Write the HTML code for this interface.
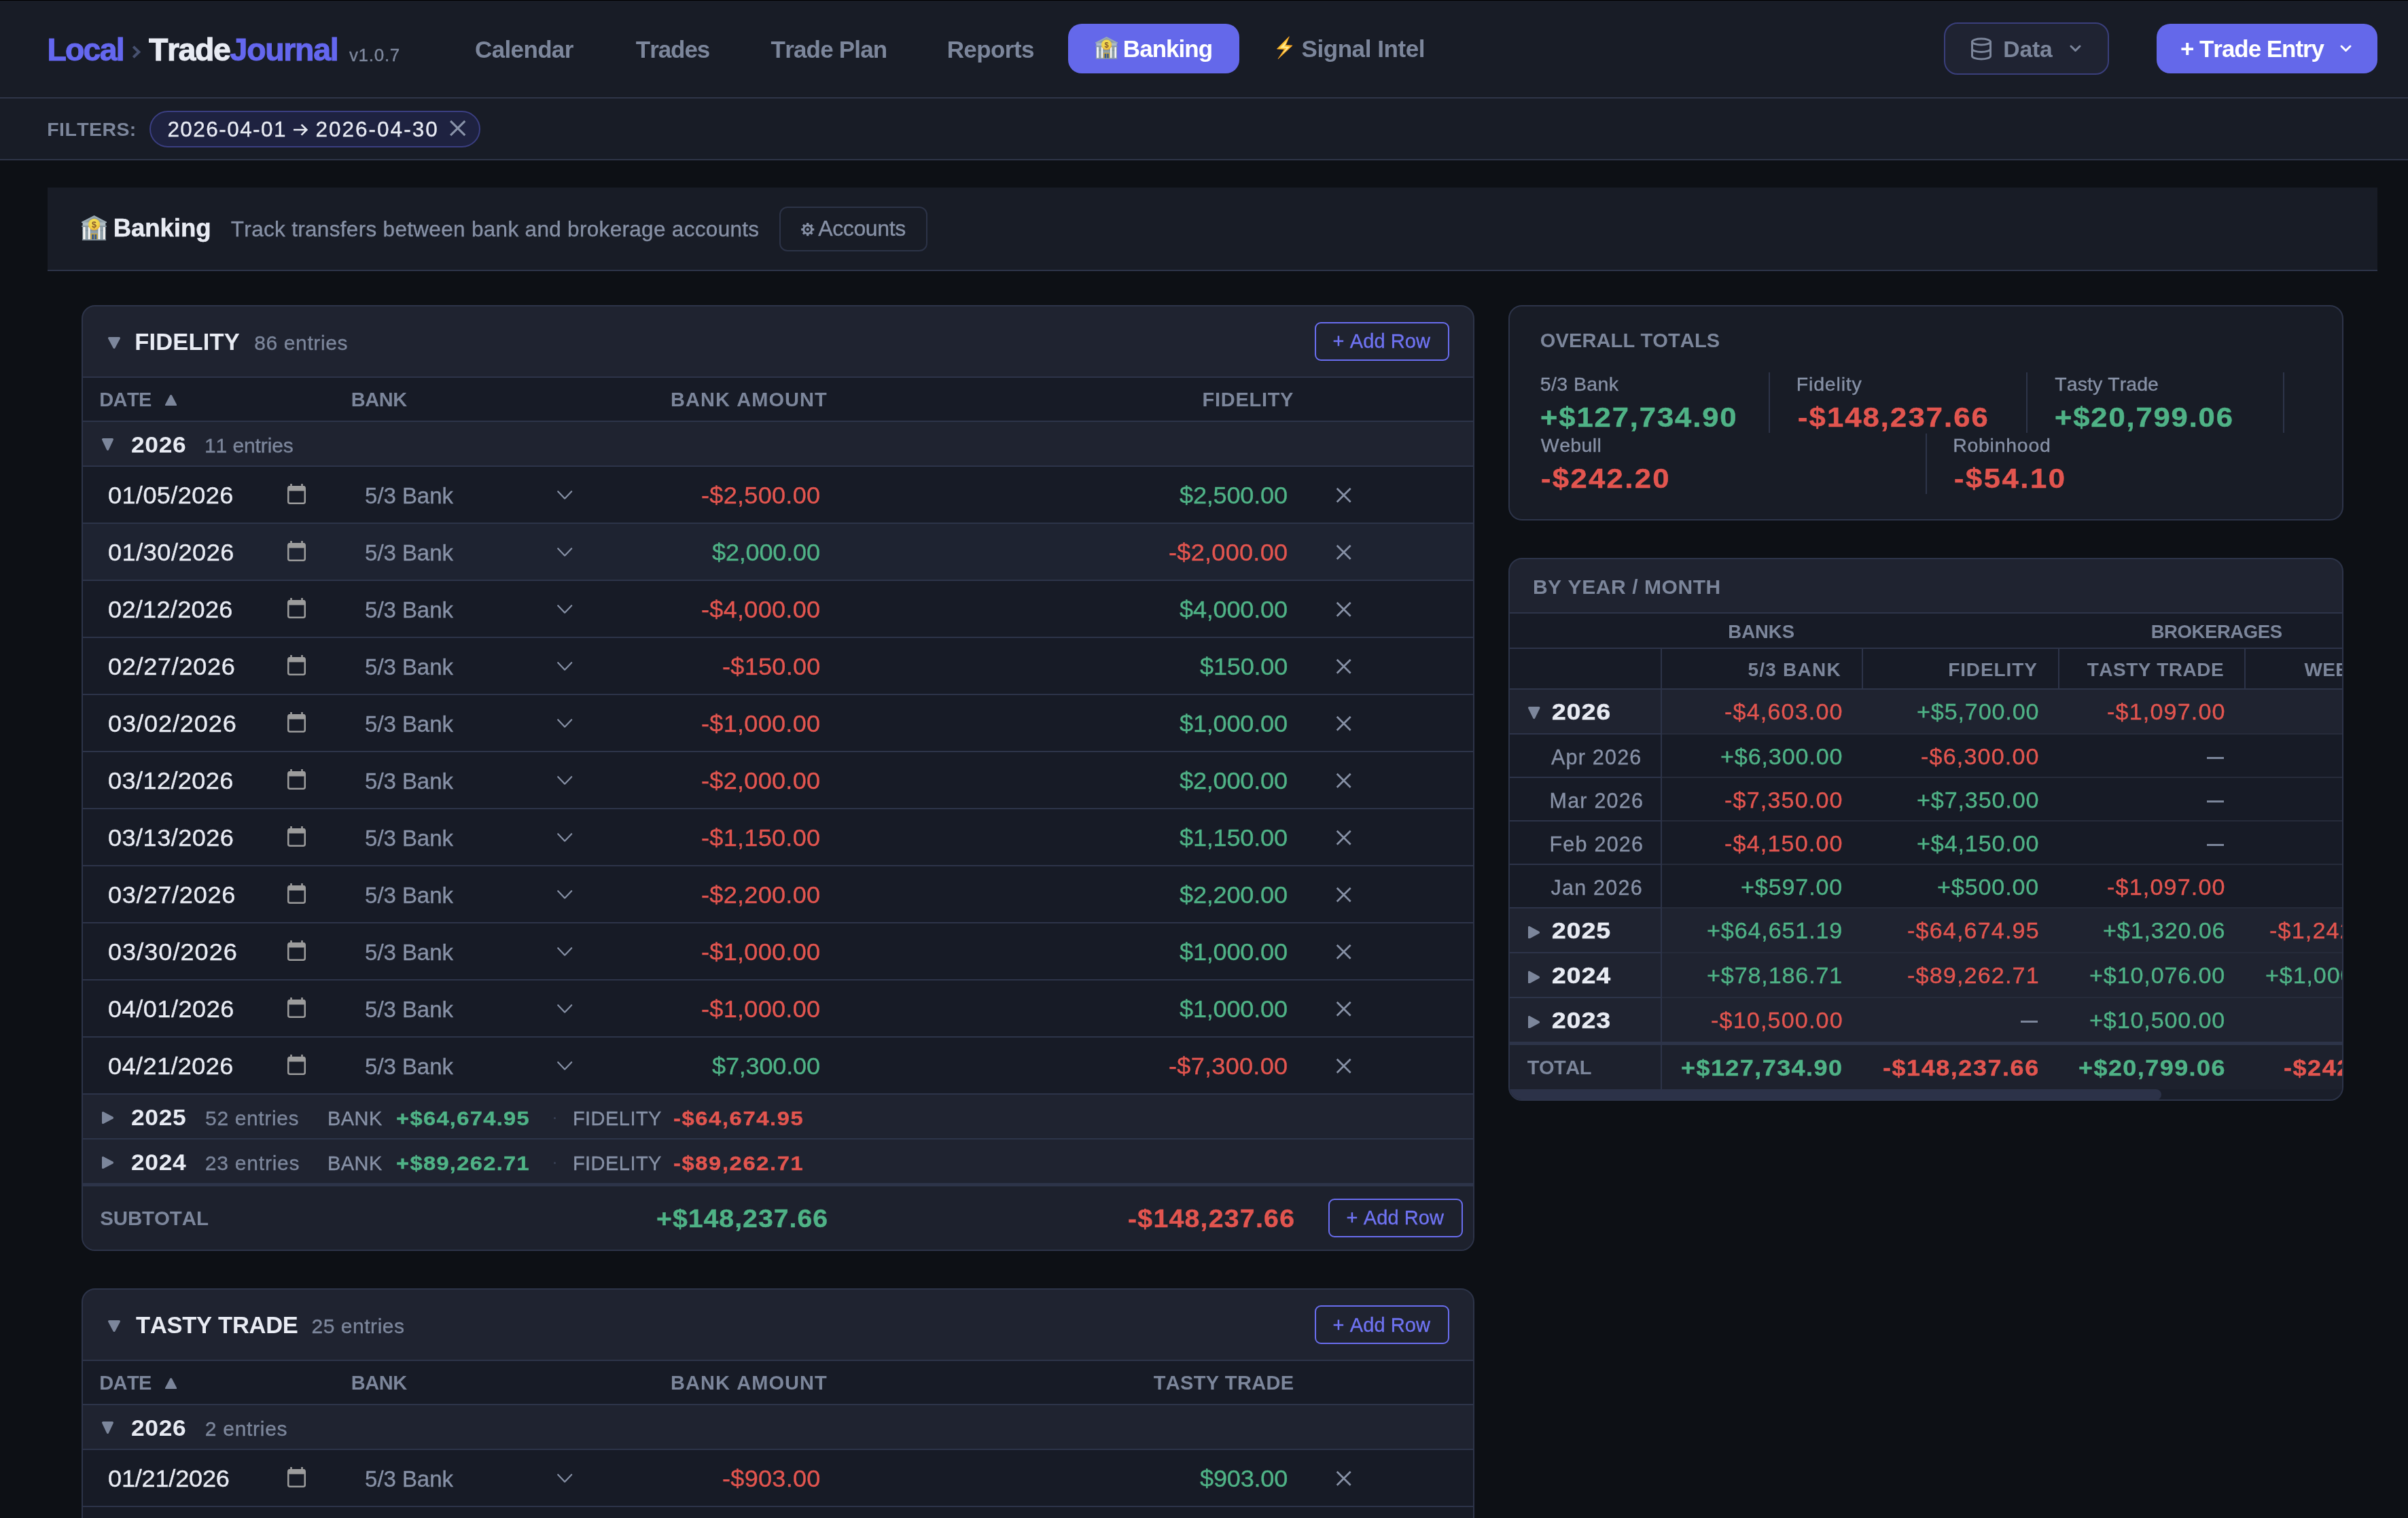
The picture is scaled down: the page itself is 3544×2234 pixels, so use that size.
<!DOCTYPE html>
<html lang="en"><head><meta charset="utf-8"><meta name="viewport" content="width=3544"><title>Local TradeJournal - Banking</title>
<style>
*{margin:0;padding:0;box-sizing:border-box}
html,body{width:3544px;height:2234px;overflow:hidden;background:#0d1015}
body{position:relative;will-change:transform;font-family:"Liberation Sans",sans-serif;font-kerning:none;-webkit-font-smoothing:antialiased}
.b{position:absolute;display:block}
.t{position:absolute;white-space:pre;line-height:1;display:block}
</style></head>
<body>
<header>
<div class="b" style="left:0px;top:0px;width:3544px;height:143px;background:#181c26;"></div>
<div class="b" style="left:0px;top:0px;width:3544px;height:1px;background:#000000;"></div>
<div class="b" style="left:0px;top:143px;width:3544px;height:2px;background:#2e3548;"></div>
<div class="b" style="left:0px;top:145px;width:3544px;height:89px;background:#181c26;"></div>
<div class="b" style="left:0px;top:234px;width:3544px;height:2px;background:#2e3548;"></div>
<span class="t" style="left:69.39px;top:50px;font-size:46.5px;color:#6467ef;font-weight:700;letter-spacing:-1.788px;-webkit-text-stroke:1.0px #6467ef;">Local</span>
<svg class="b" style="left:192px;top:64px" width="18" height="26" viewBox="0 0 18 26" ><path d="M4.2 4.6L12.4 12.5L4.2 20.4" fill="none" stroke="#475170" stroke-width="4" stroke-linecap="butt" stroke-linejoin="miter"/></svg>
<span class="t" style="left:218.98px;top:50px;font-size:46.5px;color:#e8ebf3;font-weight:700;letter-spacing:-1.432px;-webkit-text-stroke:1.0px #e8ebf3;">Trade</span>
<span class="t" style="left:338.60px;top:50px;font-size:46.5px;color:#6467ef;font-weight:700;letter-spacing:-1.326px;-webkit-text-stroke:1.0px #6467ef;">Journal</span>
<span class="t" style="left:513.91px;top:68px;font-size:26px;color:#7c869b;letter-spacing:0.714px;-webkit-text-stroke:0.4px #7c869b;">v1.0.7</span>
<nav>
<span class="t" style="left:699.06px;top:55px;font-size:35px;color:#7c869b;font-weight:700;letter-spacing:-0.645px;">Calendar</span>
<span class="t" style="left:935.81px;top:55px;font-size:35px;color:#7c869b;font-weight:700;letter-spacing:-1.051px;">Trades</span>
<span class="t" style="left:1134.61px;top:55px;font-size:35px;color:#7c869b;font-weight:700;letter-spacing:-0.821px;">Trade Plan</span>
<span class="t" style="left:1393.66px;top:55px;font-size:35px;color:#7c869b;font-weight:700;letter-spacing:-0.579px;">Reports</span>
<div class="b" style="left:1572px;top:35px;width:252px;height:73px;background:#6468ea;border-radius:20px;"></div>
<svg class="b" style="left:1612px;top:54px" width="33" height="33" viewBox="0 0 37 37" ><defs><radialGradient id="cg" cx="0.45" cy="0.35" r="0.7"><stop offset="0" stop-color="#f4e45c"/><stop offset="0.65" stop-color="#f0cf47"/><stop offset="1" stop-color="#e5a238"/></radialGradient></defs><rect x="1.4" y="16" width="34.2" height="19.6" fill="#8e9fa9"/><rect x="1.4" y="21.5" width="34.2" height="1.6" fill="#7f909b"/><path d="M18.6 0L37 9.4V11H0V9.4Z" fill="#9aaab3"/><path d="M18.6 2.6L31.5 9.6H5.7Z" fill="#8797a1"/><rect x="1.6" y="10.6" width="33.8" height="4.6" fill="#aebcc3"/><rect x="0.2" y="15" width="36.6" height="1.9" rx="0.5" fill="#8999a3"/><rect x="2.4" y="17" width="3.1" height="18.4" rx="0.7" fill="#f6f5f4"/><rect x="9.9" y="17" width="2.7" height="18.4" rx="0.7" fill="#f6f5f4"/><rect x="24.6" y="17" width="2.7" height="18.4" rx="0.7" fill="#f6f5f4"/><rect x="31.9" y="17" width="2.8" height="18.4" rx="0.7" fill="#f6f5f4"/><rect x="13.4" y="26.6" width="10.4" height="9.2" fill="#cfa83c"/><rect x="15.2" y="28" width="3" height="7.8" fill="#345a93"/><rect x="19.3" y="28" width="2.9" height="7.8" fill="#345a93"/><rect x="0.8" y="35.2" width="35.4" height="1.6" rx="0.5" fill="#8c9ca6"/><circle cx="18.6" cy="13.4" r="8.6" fill="url(#cg)"/><text x="18.6" y="18.1" text-anchor="middle" font-family="Liberation Sans" font-weight="700" font-size="12.6" fill="#86552a">$</text></svg>
<span class="t" style="left:1652.86px;top:54px;font-size:35px;color:#ffffff;font-weight:700;letter-spacing:-0.983px;">Banking</span>
<svg class="b" style="left:1878px;top:52px" width="26" height="36" viewBox="0 0 26 36" ><defs><linearGradient id="bg1" x1="0" y1="0" x2="1" y2="1"><stop offset="0" stop-color="#ffd23a"/><stop offset="0.5" stop-color="#ffc42e"/><stop offset="1" stop-color="#f3921f"/></linearGradient></defs><path d="M19.35 1.8L1.4 20L12.4 20.4L3.1 34.6L24.1 15.1L14.2 14.5Z" fill="url(#bg1)" stroke="#f39a22" stroke-width="0.8" stroke-linejoin="round"/><path d="M16.6 7.6L6.2 18.3L15.3 18.7L9 28.4L19.8 16.9L12.0 16.4Z" fill="#fff2a8" opacity="0.85"/></svg>
<span class="t" style="left:1915.49px;top:54px;font-size:35px;color:#7c869b;font-weight:700;letter-spacing:-0.429px;">Signal Intel</span>
</nav>
<div class="b" style="left:2861px;top:33px;width:243px;height:77px;background:#1f2332;border:2px solid #3a3f7c;border-radius:20px;"></div>
<svg class="b" style="left:2897.7px;top:53.5px" width="36" height="36" viewBox="0 0 24 24" ><g fill="none" stroke="#7c869b" stroke-width="2" stroke-linecap="round" stroke-linejoin="round"><ellipse cx="12" cy="5" rx="9" ry="3"/><path d="M3 5V19A9 3 0 0 0 21 19V5"/><path d="M3 12A9 3 0 0 0 21 12"/></g></svg>
<span class="t" style="left:2948.25px;top:56px;font-size:33.7px;color:#7c869b;font-weight:700;letter-spacing:-0.164px;">Data</span>
<svg class="b" style="left:3045.0px;top:65.25px" width="19" height="12.5" viewBox="0 0 19 12.5" ><path d="M3 3L9.5 9.5L16 3" fill="none" stroke="#7c869b" stroke-width="3" stroke-linecap="round" stroke-linejoin="round"/></svg>
<div class="b" style="left:3174px;top:35px;width:325px;height:73px;background:#6468ea;border-radius:20px;"></div>
<span class="t" style="left:3208.93px;top:54px;font-size:35px;color:#ffffff;font-weight:700;letter-spacing:-1.043px;">+ Trade Entry</span>
<svg class="b" style="left:3442.5px;top:65.25px" width="19" height="12.5" viewBox="0 0 19 12.5" ><path d="M3 3L9.5 9.5L16 3" fill="none" stroke="#ffffff" stroke-width="3" stroke-linecap="round" stroke-linejoin="round"/></svg>
</header>
<section>
<span class="t" style="left:69.29px;top:176px;font-size:28.5px;color:#7c869b;font-weight:700;letter-spacing:0.400px;">FILTERS:</span>
<div class="b" style="left:220px;top:163px;width:487px;height:54px;background:#1e2240;border:2px solid #3b3f82;border-radius:27px;"></div>
<span class="t" style="left:246.42px;top:175px;font-size:31.5px;color:#e8ebf3;letter-spacing:1.442px;-webkit-text-stroke:0.35px #e8ebf3;">2026-04-01</span>
<svg class="b" style="left:429.3px;top:179.3px" width="26" height="24" viewBox="0 0 26 24" ><path d="M3 12H22M14.6 4.4L22.4 12L14.6 19.6" fill="none" stroke="#e8ebf3" stroke-width="2.6" stroke-linecap="butt" stroke-linejoin="miter"/></svg>
<span class="t" style="left:464.42px;top:175px;font-size:31.5px;color:#e8ebf3;letter-spacing:2.019px;-webkit-text-stroke:0.35px #e8ebf3;">2026-04-30</span>
<svg class="b" style="left:659.5px;top:175.1px" width="27.39999999999993" height="27.2" viewBox="0 0 27.39999999999993 27.2" ><path d="M3.1 3.1L24.299999999999933 24.1M24.299999999999933 3.1L3.1 24.1" fill="none" stroke="#8993a9" stroke-width="3.1" stroke-linecap="butt"/></svg>
</section>
<main>
<section>
<div class="b" style="left:70px;top:276px;width:3429px;height:121px;background:#181c26;"></div>
<div class="b" style="left:70px;top:397px;width:3429px;height:2px;background:#2d3449;"></div>
<svg class="b" style="left:120px;top:317px" width="37" height="37" viewBox="0 0 37 37" ><defs><radialGradient id="cg" cx="0.45" cy="0.35" r="0.7"><stop offset="0" stop-color="#f4e45c"/><stop offset="0.65" stop-color="#f0cf47"/><stop offset="1" stop-color="#e5a238"/></radialGradient></defs><rect x="1.4" y="16" width="34.2" height="19.6" fill="#8e9fa9"/><rect x="1.4" y="21.5" width="34.2" height="1.6" fill="#7f909b"/><path d="M18.6 0L37 9.4V11H0V9.4Z" fill="#9aaab3"/><path d="M18.6 2.6L31.5 9.6H5.7Z" fill="#8797a1"/><rect x="1.6" y="10.6" width="33.8" height="4.6" fill="#aebcc3"/><rect x="0.2" y="15" width="36.6" height="1.9" rx="0.5" fill="#8999a3"/><rect x="2.4" y="17" width="3.1" height="18.4" rx="0.7" fill="#f6f5f4"/><rect x="9.9" y="17" width="2.7" height="18.4" rx="0.7" fill="#f6f5f4"/><rect x="24.6" y="17" width="2.7" height="18.4" rx="0.7" fill="#f6f5f4"/><rect x="31.9" y="17" width="2.8" height="18.4" rx="0.7" fill="#f6f5f4"/><rect x="13.4" y="26.6" width="10.4" height="9.2" fill="#cfa83c"/><rect x="15.2" y="28" width="3" height="7.8" fill="#345a93"/><rect x="19.3" y="28" width="2.9" height="7.8" fill="#345a93"/><rect x="0.8" y="35.2" width="35.4" height="1.6" rx="0.5" fill="#8c9ca6"/><circle cx="18.6" cy="13.4" r="8.6" fill="url(#cg)"/><text x="18.6" y="18.1" text-anchor="middle" font-family="Liberation Sans" font-weight="700" font-size="12.6" fill="#86552a">$</text></svg>
<span class="t" style="left:166.75px;top:318px;font-size:36.6px;color:#e8ebf3;font-weight:700;letter-spacing:-0.083px;-webkit-text-stroke:0.5px #e8ebf3;">Banking</span>
<span class="t" style="left:339.79px;top:322px;font-size:31.5px;color:#8791a6;letter-spacing:0.313px;-webkit-text-stroke:0.35px #8791a6;">Track transfers between bank and brokerage accounts</span>
<div class="b" style="left:1147px;top:304px;width:218px;height:66px;border:2px solid #2c3347;border-radius:12px;"></div>
<svg class="b" style="left:1177.6px;top:326.6px" width="21.4" height="21.4" viewBox="0 0 21.4 21.4" ><path d="M20.28 9.18L20.28 12.22L17.87 12.42L16.99 14.55L18.55 16.40L16.40 18.55L14.55 16.99L12.42 17.87L12.22 20.28L9.18 20.28L8.98 17.87L6.85 16.99L5.00 18.55L2.85 16.40L4.41 14.55L3.53 12.42L1.12 12.22L1.12 9.18L3.53 8.98L4.41 6.85L2.85 5.00L5.00 2.85L6.85 4.41L8.98 3.53L9.18 1.12L12.22 1.12L12.42 3.53L14.55 4.41L16.40 2.85L18.55 5.00L16.99 6.85L17.87 8.98Z" fill="#8791a6"/><circle cx="10.7" cy="10.7" r="4.56" fill="#181c26"/><circle cx="10.7" cy="10.7" r="2.13" fill="#8791a6"/></svg>
<span class="t" style="left:1204.24px;top:320px;font-size:32px;color:#8791a6;letter-spacing:-0.387px;-webkit-text-stroke:0.35px #8791a6;">Accounts</span>
</section>
<section>
<div class="b" style="left:120px;top:449px;width:2050px;height:1392px;background:#1f2330;border:2px solid #2d3449;border-radius:20px;"></div>
<svg class="b" style="left:159px;top:496px" width="18" height="18" viewBox="0 0 18 18" ><path d="M1.6 1.6H16.4L9.0 15.399999999999999Z" fill="#7c869b" stroke="#7c869b" stroke-width="3.2" stroke-linejoin="round"/></svg>
<span class="t" style="left:198.19px;top:486px;font-size:34.5px;color:#e8ebf3;font-weight:700;letter-spacing:0.189px;">FIDELITY</span>
<span class="t" style="left:374.20px;top:490px;font-size:30px;color:#7c869b;letter-spacing:0.626px;-webkit-text-stroke:0.35px #7c869b;">86 entries</span>
<div class="b" style="left:1935px;top:474px;width:198px;height:57px;border:2px solid #6a6ef0;border-radius:9px;"></div>
<span class="t" style="left:1961.58px;top:488px;font-size:29px;color:#6f73f2;letter-spacing:0.084px;-webkit-text-stroke:0.35px #6f73f2;">+ Add Row</span>
<div class="b" style="left:122px;top:554px;width:2046px;height:2px;background:#2d3449;"></div>
<div class="b" style="left:122px;top:556px;width:2046px;height:63px;background:#171b26;"></div>
<div class="b" style="left:122px;top:619px;width:2046px;height:2px;background:#2d3449;"></div>
<span class="t" style="left:146.26px;top:574px;font-size:29px;color:#7c869b;font-weight:700;letter-spacing:-0.627px;">DATE</span>
<svg class="b" style="left:243px;top:579.5px" width="17.2" height="17.5" viewBox="0 0 17.2 17.5" ><path d="M1.6 15.9H15.6L8.6 2.6Z" fill="#7c869b" stroke="#7c869b" stroke-width="3.2" stroke-linejoin="round"/></svg>
<span class="t" style="left:516.86px;top:574px;font-size:29px;color:#7c869b;font-weight:700;letter-spacing:-0.457px;">BANK</span>
<span class="t" style="left:987.06px;top:574px;font-size:29px;color:#7c869b;font-weight:700;letter-spacing:1.066px;">BANK AMOUNT</span>
<span class="t" style="left:1769.56px;top:574px;font-size:29px;color:#7c869b;font-weight:700;letter-spacing:0.717px;">FIDELITY</span>
<svg class="b" style="left:150px;top:645px" width="17" height="19" viewBox="0 0 17 19" ><path d="M1.6 1.6H15.4L8.5 16.4Z" fill="#7c869b" stroke="#7c869b" stroke-width="3.2" stroke-linejoin="round"/></svg>
<span class="t" style="left:193.07px;top:639px;font-size:32.5px;color:#e8ebf3;font-weight:700;letter-spacing:0.608px;transform:scaleX(1.09);transform-origin:0 0;">2026</span>
<span class="t" style="left:301.01px;top:641px;font-size:30px;color:#7c869b;letter-spacing:-0.098px;-webkit-text-stroke:0.35px #7c869b;">11 entries</span>
<div class="b" style="left:122px;top:685px;width:2046px;height:2px;background:#2d3449;"></div>
<div class="b" style="left:122px;top:687px;width:2046px;height:82px;background:#171b26;"></div>
<div class="b" style="left:122px;top:769px;width:2046px;height:2px;background:#2d3449;"></div>
<span class="t" style="left:159.19px;top:712px;font-size:34.4px;color:#e8ebf3;letter-spacing:0.377px;-webkit-text-stroke:0.35px #e8ebf3;transform:scaleX(1.05);transform-origin:0 0;">01/05/2026</span>
<svg class="b" style="left:423px;top:712.4px" width="27" height="30" viewBox="0 0 27 30" ><path d="M4.2 0h2.6v3.4h-2.6zM20.2 0h2.6v3.4h-2.6z" fill="#9c9c9c"/><rect x="1.25" y="4.25" width="24.5" height="24.5" rx="2.5" fill="none" stroke="#9c9c9c" stroke-width="2.5"/><rect x="1" y="3" width="25" height="7.5" rx="2" fill="#9c9c9c"/></svg>
<span class="t" style="left:537.08px;top:713px;font-size:33px;color:#8791a6;letter-spacing:-0.056px;-webkit-text-stroke:0.35px #8791a6;">5/3 Bank</span>
<svg class="b" style="left:819.0px;top:720.75px" width="24.4" height="14.9" viewBox="0 0 24.4 14.9" ><path d="M2.2 2.2L12.2 12.7L22.2 2.2" fill="none" stroke="#8791a6" stroke-width="2.2" stroke-linecap="round" stroke-linejoin="round"/></svg>
<span class="t" style="left:1032.10px;top:712px;font-size:34.4px;color:#e2554f;letter-spacing:0.258px;-webkit-text-stroke:0.35px #e2554f;transform:scaleX(1.05);transform-origin:0 0;">-$2,500.00</span>
<span class="t" style="left:1736.21px;top:712px;font-size:34.4px;color:#4fb286;letter-spacing:-0.197px;-webkit-text-stroke:0.35px #4fb286;transform:scaleX(1.05);transform-origin:0 0;">$2,500.00</span>
<svg class="b" style="left:1964.7px;top:715.5px" width="25.4" height="25.4" viewBox="0 0 25.4 25.4" ><path d="M2.7 2.7L22.7 22.7M22.7 2.7L2.7 22.7" fill="none" stroke="#8791a6" stroke-width="2.7" stroke-linecap="butt"/></svg>
<div class="b" style="left:122px;top:771px;width:2046px;height:82px;background:#1e2331;"></div>
<div class="b" style="left:122px;top:853px;width:2046px;height:2px;background:#2d3449;"></div>
<span class="t" style="left:159.19px;top:796px;font-size:34.4px;color:#e8ebf3;letter-spacing:0.494px;-webkit-text-stroke:0.35px #e8ebf3;transform:scaleX(1.05);transform-origin:0 0;">01/30/2026</span>
<svg class="b" style="left:423px;top:796.4px" width="27" height="30" viewBox="0 0 27 30" ><path d="M4.2 0h2.6v3.4h-2.6zM20.2 0h2.6v3.4h-2.6z" fill="#9c9c9c"/><rect x="1.25" y="4.25" width="24.5" height="24.5" rx="2.5" fill="none" stroke="#9c9c9c" stroke-width="2.5"/><rect x="1" y="3" width="25" height="7.5" rx="2" fill="#9c9c9c"/></svg>
<span class="t" style="left:537.08px;top:797px;font-size:33px;color:#8791a6;letter-spacing:-0.056px;-webkit-text-stroke:0.35px #8791a6;">5/3 Bank</span>
<svg class="b" style="left:819.0px;top:804.75px" width="24.4" height="14.9" viewBox="0 0 24.4 14.9" ><path d="M2.2 2.2L12.2 12.7L22.2 2.2" fill="none" stroke="#8791a6" stroke-width="2.2" stroke-linecap="round" stroke-linejoin="round"/></svg>
<span class="t" style="left:1048.21px;top:796px;font-size:34.4px;color:#4fb286;letter-spacing:-0.197px;-webkit-text-stroke:0.35px #4fb286;transform:scaleX(1.05);transform-origin:0 0;">$2,000.00</span>
<span class="t" style="left:1720.10px;top:796px;font-size:34.4px;color:#e2554f;letter-spacing:0.258px;-webkit-text-stroke:0.35px #e2554f;transform:scaleX(1.05);transform-origin:0 0;">-$2,000.00</span>
<svg class="b" style="left:1964.7px;top:799.5px" width="25.4" height="25.4" viewBox="0 0 25.4 25.4" ><path d="M2.7 2.7L22.7 22.7M22.7 2.7L2.7 22.7" fill="none" stroke="#8791a6" stroke-width="2.7" stroke-linecap="butt"/></svg>
<div class="b" style="left:122px;top:855px;width:2046px;height:82px;background:#171b26;"></div>
<div class="b" style="left:122px;top:937px;width:2046px;height:2px;background:#2d3449;"></div>
<span class="t" style="left:159.19px;top:880px;font-size:34.4px;color:#e8ebf3;letter-spacing:0.282px;-webkit-text-stroke:0.35px #e8ebf3;transform:scaleX(1.05);transform-origin:0 0;">02/12/2026</span>
<svg class="b" style="left:423px;top:880.4px" width="27" height="30" viewBox="0 0 27 30" ><path d="M4.2 0h2.6v3.4h-2.6zM20.2 0h2.6v3.4h-2.6z" fill="#9c9c9c"/><rect x="1.25" y="4.25" width="24.5" height="24.5" rx="2.5" fill="none" stroke="#9c9c9c" stroke-width="2.5"/><rect x="1" y="3" width="25" height="7.5" rx="2" fill="#9c9c9c"/></svg>
<span class="t" style="left:537.08px;top:881px;font-size:33px;color:#8791a6;letter-spacing:-0.056px;-webkit-text-stroke:0.35px #8791a6;">5/3 Bank</span>
<svg class="b" style="left:819.0px;top:888.75px" width="24.4" height="14.9" viewBox="0 0 24.4 14.9" ><path d="M2.2 2.2L12.2 12.7L22.2 2.2" fill="none" stroke="#8791a6" stroke-width="2.2" stroke-linecap="round" stroke-linejoin="round"/></svg>
<span class="t" style="left:1032.10px;top:880px;font-size:34.4px;color:#e2554f;letter-spacing:0.258px;-webkit-text-stroke:0.35px #e2554f;transform:scaleX(1.05);transform-origin:0 0;">-$4,000.00</span>
<span class="t" style="left:1736.21px;top:880px;font-size:34.4px;color:#4fb286;letter-spacing:-0.197px;-webkit-text-stroke:0.35px #4fb286;transform:scaleX(1.05);transform-origin:0 0;">$4,000.00</span>
<svg class="b" style="left:1964.7px;top:883.5px" width="25.4" height="25.4" viewBox="0 0 25.4 25.4" ><path d="M2.7 2.7L22.7 22.7M22.7 2.7L2.7 22.7" fill="none" stroke="#8791a6" stroke-width="2.7" stroke-linecap="butt"/></svg>
<div class="b" style="left:122px;top:939px;width:2046px;height:82px;background:#171b26;"></div>
<div class="b" style="left:122px;top:1021px;width:2046px;height:2px;background:#2d3449;"></div>
<span class="t" style="left:159.19px;top:964px;font-size:34.4px;color:#e8ebf3;letter-spacing:0.653px;-webkit-text-stroke:0.35px #e8ebf3;transform:scaleX(1.05);transform-origin:0 0;">02/27/2026</span>
<svg class="b" style="left:423px;top:964.4px" width="27" height="30" viewBox="0 0 27 30" ><path d="M4.2 0h2.6v3.4h-2.6zM20.2 0h2.6v3.4h-2.6z" fill="#9c9c9c"/><rect x="1.25" y="4.25" width="24.5" height="24.5" rx="2.5" fill="none" stroke="#9c9c9c" stroke-width="2.5"/><rect x="1" y="3" width="25" height="7.5" rx="2" fill="#9c9c9c"/></svg>
<span class="t" style="left:537.08px;top:965px;font-size:33px;color:#8791a6;letter-spacing:-0.056px;-webkit-text-stroke:0.35px #8791a6;">5/3 Bank</span>
<svg class="b" style="left:819.0px;top:972.75px" width="24.4" height="14.9" viewBox="0 0 24.4 14.9" ><path d="M2.2 2.2L12.2 12.7L22.2 2.2" fill="none" stroke="#8791a6" stroke-width="2.2" stroke-linecap="round" stroke-linejoin="round"/></svg>
<span class="t" style="left:1062.74px;top:964px;font-size:34.4px;color:#e2554f;letter-spacing:0.258px;-webkit-text-stroke:0.35px #e2554f;transform:scaleX(1.05);transform-origin:0 0;">-$150.00</span>
<span class="t" style="left:1765.90px;top:964px;font-size:34.4px;color:#4fb286;letter-spacing:-0.197px;-webkit-text-stroke:0.35px #4fb286;transform:scaleX(1.05);transform-origin:0 0;">$150.00</span>
<svg class="b" style="left:1964.7px;top:967.5px" width="25.4" height="25.4" viewBox="0 0 25.4 25.4" ><path d="M2.7 2.7L22.7 22.7M22.7 2.7L2.7 22.7" fill="none" stroke="#8791a6" stroke-width="2.7" stroke-linecap="butt"/></svg>
<div class="b" style="left:122px;top:1023px;width:2046px;height:82px;background:#171b26;"></div>
<div class="b" style="left:122px;top:1105px;width:2046px;height:2px;background:#2d3449;"></div>
<span class="t" style="left:159.19px;top:1048px;font-size:34.4px;color:#e8ebf3;letter-spacing:0.864px;-webkit-text-stroke:0.35px #e8ebf3;transform:scaleX(1.05);transform-origin:0 0;">03/02/2026</span>
<svg class="b" style="left:423px;top:1048.4px" width="27" height="30" viewBox="0 0 27 30" ><path d="M4.2 0h2.6v3.4h-2.6zM20.2 0h2.6v3.4h-2.6z" fill="#9c9c9c"/><rect x="1.25" y="4.25" width="24.5" height="24.5" rx="2.5" fill="none" stroke="#9c9c9c" stroke-width="2.5"/><rect x="1" y="3" width="25" height="7.5" rx="2" fill="#9c9c9c"/></svg>
<span class="t" style="left:537.08px;top:1049px;font-size:33px;color:#8791a6;letter-spacing:-0.056px;-webkit-text-stroke:0.35px #8791a6;">5/3 Bank</span>
<svg class="b" style="left:819.0px;top:1056.75px" width="24.4" height="14.9" viewBox="0 0 24.4 14.9" ><path d="M2.2 2.2L12.2 12.7L22.2 2.2" fill="none" stroke="#8791a6" stroke-width="2.2" stroke-linecap="round" stroke-linejoin="round"/></svg>
<span class="t" style="left:1032.10px;top:1048px;font-size:34.4px;color:#e2554f;letter-spacing:0.258px;-webkit-text-stroke:0.35px #e2554f;transform:scaleX(1.05);transform-origin:0 0;">-$1,000.00</span>
<span class="t" style="left:1736.21px;top:1048px;font-size:34.4px;color:#4fb286;letter-spacing:-0.197px;-webkit-text-stroke:0.35px #4fb286;transform:scaleX(1.05);transform-origin:0 0;">$1,000.00</span>
<svg class="b" style="left:1964.7px;top:1051.5px" width="25.4" height="25.4" viewBox="0 0 25.4 25.4" ><path d="M2.7 2.7L22.7 22.7M22.7 2.7L2.7 22.7" fill="none" stroke="#8791a6" stroke-width="2.7" stroke-linecap="butt"/></svg>
<div class="b" style="left:122px;top:1107px;width:2046px;height:82px;background:#171b26;"></div>
<div class="b" style="left:122px;top:1189px;width:2046px;height:2px;background:#2d3449;"></div>
<span class="t" style="left:159.19px;top:1132px;font-size:34.4px;color:#e8ebf3;letter-spacing:0.388px;-webkit-text-stroke:0.35px #e8ebf3;transform:scaleX(1.05);transform-origin:0 0;">03/12/2026</span>
<svg class="b" style="left:423px;top:1132.4px" width="27" height="30" viewBox="0 0 27 30" ><path d="M4.2 0h2.6v3.4h-2.6zM20.2 0h2.6v3.4h-2.6z" fill="#9c9c9c"/><rect x="1.25" y="4.25" width="24.5" height="24.5" rx="2.5" fill="none" stroke="#9c9c9c" stroke-width="2.5"/><rect x="1" y="3" width="25" height="7.5" rx="2" fill="#9c9c9c"/></svg>
<span class="t" style="left:537.08px;top:1133px;font-size:33px;color:#8791a6;letter-spacing:-0.056px;-webkit-text-stroke:0.35px #8791a6;">5/3 Bank</span>
<svg class="b" style="left:819.0px;top:1140.75px" width="24.4" height="14.9" viewBox="0 0 24.4 14.9" ><path d="M2.2 2.2L12.2 12.7L22.2 2.2" fill="none" stroke="#8791a6" stroke-width="2.2" stroke-linecap="round" stroke-linejoin="round"/></svg>
<span class="t" style="left:1032.10px;top:1132px;font-size:34.4px;color:#e2554f;letter-spacing:0.258px;-webkit-text-stroke:0.35px #e2554f;transform:scaleX(1.05);transform-origin:0 0;">-$2,000.00</span>
<span class="t" style="left:1736.21px;top:1132px;font-size:34.4px;color:#4fb286;letter-spacing:-0.197px;-webkit-text-stroke:0.35px #4fb286;transform:scaleX(1.05);transform-origin:0 0;">$2,000.00</span>
<svg class="b" style="left:1964.7px;top:1135.5px" width="25.4" height="25.4" viewBox="0 0 25.4 25.4" ><path d="M2.7 2.7L22.7 22.7M22.7 2.7L2.7 22.7" fill="none" stroke="#8791a6" stroke-width="2.7" stroke-linecap="butt"/></svg>
<div class="b" style="left:122px;top:1191px;width:2046px;height:82px;background:#171b26;"></div>
<div class="b" style="left:122px;top:1273px;width:2046px;height:2px;background:#2d3449;"></div>
<span class="t" style="left:159.19px;top:1216px;font-size:34.4px;color:#e8ebf3;letter-spacing:0.441px;-webkit-text-stroke:0.35px #e8ebf3;transform:scaleX(1.05);transform-origin:0 0;">03/13/2026</span>
<svg class="b" style="left:423px;top:1216.4px" width="27" height="30" viewBox="0 0 27 30" ><path d="M4.2 0h2.6v3.4h-2.6zM20.2 0h2.6v3.4h-2.6z" fill="#9c9c9c"/><rect x="1.25" y="4.25" width="24.5" height="24.5" rx="2.5" fill="none" stroke="#9c9c9c" stroke-width="2.5"/><rect x="1" y="3" width="25" height="7.5" rx="2" fill="#9c9c9c"/></svg>
<span class="t" style="left:537.08px;top:1217px;font-size:33px;color:#8791a6;letter-spacing:-0.056px;-webkit-text-stroke:0.35px #8791a6;">5/3 Bank</span>
<svg class="b" style="left:819.0px;top:1224.75px" width="24.4" height="14.9" viewBox="0 0 24.4 14.9" ><path d="M2.2 2.2L12.2 12.7L22.2 2.2" fill="none" stroke="#8791a6" stroke-width="2.2" stroke-linecap="round" stroke-linejoin="round"/></svg>
<span class="t" style="left:1032.10px;top:1216px;font-size:34.4px;color:#e2554f;letter-spacing:0.258px;-webkit-text-stroke:0.35px #e2554f;transform:scaleX(1.05);transform-origin:0 0;">-$1,150.00</span>
<span class="t" style="left:1736.21px;top:1216px;font-size:34.4px;color:#4fb286;letter-spacing:-0.197px;-webkit-text-stroke:0.35px #4fb286;transform:scaleX(1.05);transform-origin:0 0;">$1,150.00</span>
<svg class="b" style="left:1964.7px;top:1219.5px" width="25.4" height="25.4" viewBox="0 0 25.4 25.4" ><path d="M2.7 2.7L22.7 22.7M22.7 2.7L2.7 22.7" fill="none" stroke="#8791a6" stroke-width="2.7" stroke-linecap="butt"/></svg>
<div class="b" style="left:122px;top:1275px;width:2046px;height:82px;background:#171b26;"></div>
<div class="b" style="left:122px;top:1357px;width:2046px;height:2px;background:#2d3449;"></div>
<span class="t" style="left:159.19px;top:1300px;font-size:34.4px;color:#e8ebf3;letter-spacing:0.706px;-webkit-text-stroke:0.35px #e8ebf3;transform:scaleX(1.05);transform-origin:0 0;">03/27/2026</span>
<svg class="b" style="left:423px;top:1300.4px" width="27" height="30" viewBox="0 0 27 30" ><path d="M4.2 0h2.6v3.4h-2.6zM20.2 0h2.6v3.4h-2.6z" fill="#9c9c9c"/><rect x="1.25" y="4.25" width="24.5" height="24.5" rx="2.5" fill="none" stroke="#9c9c9c" stroke-width="2.5"/><rect x="1" y="3" width="25" height="7.5" rx="2" fill="#9c9c9c"/></svg>
<span class="t" style="left:537.08px;top:1301px;font-size:33px;color:#8791a6;letter-spacing:-0.056px;-webkit-text-stroke:0.35px #8791a6;">5/3 Bank</span>
<svg class="b" style="left:819.0px;top:1308.75px" width="24.4" height="14.9" viewBox="0 0 24.4 14.9" ><path d="M2.2 2.2L12.2 12.7L22.2 2.2" fill="none" stroke="#8791a6" stroke-width="2.2" stroke-linecap="round" stroke-linejoin="round"/></svg>
<span class="t" style="left:1032.10px;top:1300px;font-size:34.4px;color:#e2554f;letter-spacing:0.258px;-webkit-text-stroke:0.35px #e2554f;transform:scaleX(1.05);transform-origin:0 0;">-$2,200.00</span>
<span class="t" style="left:1736.21px;top:1300px;font-size:34.4px;color:#4fb286;letter-spacing:-0.197px;-webkit-text-stroke:0.35px #4fb286;transform:scaleX(1.05);transform-origin:0 0;">$2,200.00</span>
<svg class="b" style="left:1964.7px;top:1303.5px" width="25.4" height="25.4" viewBox="0 0 25.4 25.4" ><path d="M2.7 2.7L22.7 22.7M22.7 2.7L2.7 22.7" fill="none" stroke="#8791a6" stroke-width="2.7" stroke-linecap="butt"/></svg>
<div class="b" style="left:122px;top:1359px;width:2046px;height:82px;background:#171b26;"></div>
<div class="b" style="left:122px;top:1441px;width:2046px;height:2px;background:#2d3449;"></div>
<span class="t" style="left:159.19px;top:1384px;font-size:34.4px;color:#e8ebf3;letter-spacing:0.970px;-webkit-text-stroke:0.35px #e8ebf3;transform:scaleX(1.05);transform-origin:0 0;">03/30/2026</span>
<svg class="b" style="left:423px;top:1384.4px" width="27" height="30" viewBox="0 0 27 30" ><path d="M4.2 0h2.6v3.4h-2.6zM20.2 0h2.6v3.4h-2.6z" fill="#9c9c9c"/><rect x="1.25" y="4.25" width="24.5" height="24.5" rx="2.5" fill="none" stroke="#9c9c9c" stroke-width="2.5"/><rect x="1" y="3" width="25" height="7.5" rx="2" fill="#9c9c9c"/></svg>
<span class="t" style="left:537.08px;top:1385px;font-size:33px;color:#8791a6;letter-spacing:-0.056px;-webkit-text-stroke:0.35px #8791a6;">5/3 Bank</span>
<svg class="b" style="left:819.0px;top:1392.75px" width="24.4" height="14.9" viewBox="0 0 24.4 14.9" ><path d="M2.2 2.2L12.2 12.7L22.2 2.2" fill="none" stroke="#8791a6" stroke-width="2.2" stroke-linecap="round" stroke-linejoin="round"/></svg>
<span class="t" style="left:1032.10px;top:1384px;font-size:34.4px;color:#e2554f;letter-spacing:0.258px;-webkit-text-stroke:0.35px #e2554f;transform:scaleX(1.05);transform-origin:0 0;">-$1,000.00</span>
<span class="t" style="left:1736.21px;top:1384px;font-size:34.4px;color:#4fb286;letter-spacing:-0.197px;-webkit-text-stroke:0.35px #4fb286;transform:scaleX(1.05);transform-origin:0 0;">$1,000.00</span>
<svg class="b" style="left:1964.7px;top:1387.5px" width="25.4" height="25.4" viewBox="0 0 25.4 25.4" ><path d="M2.7 2.7L22.7 22.7M22.7 2.7L2.7 22.7" fill="none" stroke="#8791a6" stroke-width="2.7" stroke-linecap="butt"/></svg>
<div class="b" style="left:122px;top:1443px;width:2046px;height:82px;background:#171b26;"></div>
<div class="b" style="left:122px;top:1525px;width:2046px;height:2px;background:#2d3449;"></div>
<span class="t" style="left:159.19px;top:1468px;font-size:34.4px;color:#e8ebf3;letter-spacing:0.494px;-webkit-text-stroke:0.35px #e8ebf3;transform:scaleX(1.05);transform-origin:0 0;">04/01/2026</span>
<svg class="b" style="left:423px;top:1468.4px" width="27" height="30" viewBox="0 0 27 30" ><path d="M4.2 0h2.6v3.4h-2.6zM20.2 0h2.6v3.4h-2.6z" fill="#9c9c9c"/><rect x="1.25" y="4.25" width="24.5" height="24.5" rx="2.5" fill="none" stroke="#9c9c9c" stroke-width="2.5"/><rect x="1" y="3" width="25" height="7.5" rx="2" fill="#9c9c9c"/></svg>
<span class="t" style="left:537.08px;top:1469px;font-size:33px;color:#8791a6;letter-spacing:-0.056px;-webkit-text-stroke:0.35px #8791a6;">5/3 Bank</span>
<svg class="b" style="left:819.0px;top:1476.75px" width="24.4" height="14.9" viewBox="0 0 24.4 14.9" ><path d="M2.2 2.2L12.2 12.7L22.2 2.2" fill="none" stroke="#8791a6" stroke-width="2.2" stroke-linecap="round" stroke-linejoin="round"/></svg>
<span class="t" style="left:1032.10px;top:1468px;font-size:34.4px;color:#e2554f;letter-spacing:0.258px;-webkit-text-stroke:0.35px #e2554f;transform:scaleX(1.05);transform-origin:0 0;">-$1,000.00</span>
<span class="t" style="left:1736.21px;top:1468px;font-size:34.4px;color:#4fb286;letter-spacing:-0.197px;-webkit-text-stroke:0.35px #4fb286;transform:scaleX(1.05);transform-origin:0 0;">$1,000.00</span>
<svg class="b" style="left:1964.7px;top:1471.5px" width="25.4" height="25.4" viewBox="0 0 25.4 25.4" ><path d="M2.7 2.7L22.7 22.7M22.7 2.7L2.7 22.7" fill="none" stroke="#8791a6" stroke-width="2.7" stroke-linecap="butt"/></svg>
<div class="b" style="left:122px;top:1527px;width:2046px;height:82px;background:#171b26;"></div>
<div class="b" style="left:122px;top:1609px;width:2046px;height:2px;background:#2d3449;"></div>
<span class="t" style="left:159.19px;top:1552px;font-size:34.4px;color:#e8ebf3;letter-spacing:0.388px;-webkit-text-stroke:0.35px #e8ebf3;transform:scaleX(1.05);transform-origin:0 0;">04/21/2026</span>
<svg class="b" style="left:423px;top:1552.4px" width="27" height="30" viewBox="0 0 27 30" ><path d="M4.2 0h2.6v3.4h-2.6zM20.2 0h2.6v3.4h-2.6z" fill="#9c9c9c"/><rect x="1.25" y="4.25" width="24.5" height="24.5" rx="2.5" fill="none" stroke="#9c9c9c" stroke-width="2.5"/><rect x="1" y="3" width="25" height="7.5" rx="2" fill="#9c9c9c"/></svg>
<span class="t" style="left:537.08px;top:1553px;font-size:33px;color:#8791a6;letter-spacing:-0.056px;-webkit-text-stroke:0.35px #8791a6;">5/3 Bank</span>
<svg class="b" style="left:819.0px;top:1560.75px" width="24.4" height="14.9" viewBox="0 0 24.4 14.9" ><path d="M2.2 2.2L12.2 12.7L22.2 2.2" fill="none" stroke="#8791a6" stroke-width="2.2" stroke-linecap="round" stroke-linejoin="round"/></svg>
<span class="t" style="left:1048.21px;top:1552px;font-size:34.4px;color:#4fb286;letter-spacing:-0.197px;-webkit-text-stroke:0.35px #4fb286;transform:scaleX(1.05);transform-origin:0 0;">$7,300.00</span>
<span class="t" style="left:1720.10px;top:1552px;font-size:34.4px;color:#e2554f;letter-spacing:0.258px;-webkit-text-stroke:0.35px #e2554f;transform:scaleX(1.05);transform-origin:0 0;">-$7,300.00</span>
<svg class="b" style="left:1964.7px;top:1555.5px" width="25.4" height="25.4" viewBox="0 0 25.4 25.4" ><path d="M2.7 2.7L22.7 22.7M22.7 2.7L2.7 22.7" fill="none" stroke="#8791a6" stroke-width="2.7" stroke-linecap="butt"/></svg>
<svg class="b" style="left:150px;top:1636px" width="18" height="18" viewBox="0 0 18 18" ><path d="M1.6 1.6V16.4L15.399999999999999 9.0Z" fill="#7c869b" stroke="#7c869b" stroke-width="3.2" stroke-linejoin="round"/></svg>
<span class="t" style="left:193.07px;top:1629px;font-size:32.5px;color:#e8ebf3;font-weight:700;letter-spacing:0.608px;transform:scaleX(1.09);transform-origin:0 0;">2025</span>
<span class="t" style="left:302.10px;top:1631px;font-size:30px;color:#7c869b;letter-spacing:0.637px;-webkit-text-stroke:0.35px #7c869b;">52 entries</span>
<span class="t" style="left:481.92px;top:1632px;font-size:29px;color:#8791a6;letter-spacing:0.458px;-webkit-text-stroke:0.35px #8791a6;">BANK</span>
<span class="t" style="left:582.63px;top:1631px;font-size:30px;color:#4fb286;font-weight:700;letter-spacing:1.195px;-webkit-text-stroke:0.4px #4fb286;transform:scaleX(1.09);transform-origin:0 0;">+$64,674.95</span>
<div class="b" style="left:814.5px;top:1644px;width:3px;height:3px;background:#3a4156;border-radius:1.5px;"></div>
<span class="t" style="left:842.92px;top:1632px;font-size:29px;color:#8791a6;letter-spacing:0.458px;-webkit-text-stroke:0.35px #8791a6;">FIDELITY</span>
<span class="t" style="left:991.42px;top:1631px;font-size:30px;color:#e2554f;font-weight:700;letter-spacing:1.480px;-webkit-text-stroke:0.4px #e2554f;transform:scaleX(1.09);transform-origin:0 0;">-$64,674.95</span>
<div class="b" style="left:122px;top:1675px;width:2046px;height:2px;background:#2d3449;"></div>
<svg class="b" style="left:150px;top:1702px" width="18" height="18" viewBox="0 0 18 18" ><path d="M1.6 1.6V16.4L15.399999999999999 9.0Z" fill="#7c869b" stroke="#7c869b" stroke-width="3.2" stroke-linejoin="round"/></svg>
<span class="t" style="left:193.07px;top:1695px;font-size:32.5px;color:#e8ebf3;font-weight:700;letter-spacing:0.608px;transform:scaleX(1.09);transform-origin:0 0;">2024</span>
<span class="t" style="left:301.79px;top:1697px;font-size:30px;color:#7c869b;letter-spacing:0.783px;-webkit-text-stroke:0.35px #7c869b;">23 entries</span>
<span class="t" style="left:481.92px;top:1698px;font-size:29px;color:#8791a6;letter-spacing:0.458px;-webkit-text-stroke:0.35px #8791a6;">BANK</span>
<span class="t" style="left:582.63px;top:1697px;font-size:30px;color:#4fb286;font-weight:700;letter-spacing:1.195px;-webkit-text-stroke:0.4px #4fb286;transform:scaleX(1.09);transform-origin:0 0;">+$89,262.71</span>
<div class="b" style="left:814.5px;top:1710px;width:3px;height:3px;background:#3a4156;border-radius:1.5px;"></div>
<span class="t" style="left:842.92px;top:1698px;font-size:29px;color:#8791a6;letter-spacing:0.458px;-webkit-text-stroke:0.35px #8791a6;">FIDELITY</span>
<span class="t" style="left:991.42px;top:1697px;font-size:30px;color:#e2554f;font-weight:700;letter-spacing:1.480px;-webkit-text-stroke:0.4px #e2554f;transform:scaleX(1.09);transform-origin:0 0;">-$89,262.71</span>
<div class="b" style="left:122px;top:1741px;width:2046px;height:5px;background:#2d3449;"></div>
<div class="b" style="left:122px;top:1746px;width:2046px;height:93px;background:#1d212d;border-radius:0 0 18px 18px;"></div>
<span class="t" style="left:147.15px;top:1778px;font-size:29.5px;color:#7c869b;font-weight:700;letter-spacing:-0.119px;">SUBTOTAL</span>
<span class="t" style="left:965.85px;top:1776px;font-size:36px;color:#4fb286;font-weight:700;letter-spacing:0.911px;-webkit-text-stroke:0.4px #4fb286;transform:scaleX(1.09);transform-origin:0 0;">+$148,237.66</span>
<span class="t" style="left:1660.47px;top:1776px;font-size:36px;color:#e2554f;font-weight:700;letter-spacing:1.140px;-webkit-text-stroke:0.4px #e2554f;transform:scaleX(1.09);transform-origin:0 0;">-$148,237.66</span>
<div class="b" style="left:1955px;top:1764px;width:198px;height:57px;border:2px solid #6a6ef0;border-radius:9px;"></div>
<span class="t" style="left:1981.58px;top:1778px;font-size:29px;color:#6f73f2;letter-spacing:0.084px;-webkit-text-stroke:0.35px #6f73f2;">+ Add Row</span>
</section>
<section>
<div class="b" style="left:120px;top:1896px;width:2050px;height:700px;background:#1f2330;border:2px solid #2d3449;border-radius:20px;"></div>
<svg class="b" style="left:159px;top:1943px" width="18" height="18" viewBox="0 0 18 18" ><path d="M1.6 1.6H16.4L9.0 15.399999999999999Z" fill="#7c869b" stroke="#7c869b" stroke-width="3.2" stroke-linejoin="round"/></svg>
<span class="t" style="left:200.11px;top:1933px;font-size:34.5px;color:#e8ebf3;font-weight:700;letter-spacing:-0.276px;">TASTY TRADE</span>
<span class="t" style="left:458.49px;top:1937px;font-size:30px;color:#7c869b;letter-spacing:0.538px;-webkit-text-stroke:0.35px #7c869b;">25 entries</span>
<div class="b" style="left:1935px;top:1921px;width:198px;height:57px;border:2px solid #6a6ef0;border-radius:9px;"></div>
<span class="t" style="left:1961.58px;top:1936px;font-size:29px;color:#6f73f2;letter-spacing:0.084px;-webkit-text-stroke:0.35px #6f73f2;">+ Add Row</span>
<div class="b" style="left:122px;top:2001px;width:2046px;height:2px;background:#2d3449;"></div>
<div class="b" style="left:122px;top:2003px;width:2046px;height:63px;background:#171b26;"></div>
<div class="b" style="left:122px;top:2066px;width:2046px;height:2px;background:#2d3449;"></div>
<span class="t" style="left:146.26px;top:2021px;font-size:29px;color:#7c869b;font-weight:700;letter-spacing:-0.627px;">DATE</span>
<svg class="b" style="left:243px;top:2026.5px" width="17.2" height="17.5" viewBox="0 0 17.2 17.5" ><path d="M1.6 15.9H15.6L8.6 2.6Z" fill="#7c869b" stroke="#7c869b" stroke-width="3.2" stroke-linejoin="round"/></svg>
<span class="t" style="left:516.86px;top:2021px;font-size:29px;color:#7c869b;font-weight:700;letter-spacing:-0.457px;">BANK</span>
<span class="t" style="left:987.06px;top:2021px;font-size:29px;color:#7c869b;font-weight:700;letter-spacing:1.066px;">BANK AMOUNT</span>
<span class="t" style="left:1697.67px;top:2021px;font-size:29px;color:#7c869b;font-weight:700;letter-spacing:0.346px;">TASTY TRADE</span>
<svg class="b" style="left:150px;top:2092px" width="17" height="19" viewBox="0 0 17 19" ><path d="M1.6 1.6H15.4L8.5 16.4Z" fill="#7c869b" stroke="#7c869b" stroke-width="3.2" stroke-linejoin="round"/></svg>
<span class="t" style="left:193.07px;top:2086px;font-size:32.5px;color:#e8ebf3;font-weight:700;letter-spacing:0.608px;transform:scaleX(1.09);transform-origin:0 0;">2026</span>
<span class="t" style="left:301.79px;top:2088px;font-size:30px;color:#7c869b;letter-spacing:0.714px;-webkit-text-stroke:0.35px #7c869b;">2 entries</span>
<div class="b" style="left:122px;top:2132px;width:2046px;height:2px;background:#2d3449;"></div>
<div class="b" style="left:122px;top:2134px;width:2046px;height:82px;background:#171b26;"></div>
<div class="b" style="left:122px;top:2216px;width:2046px;height:2px;background:#2d3449;"></div>
<span class="t" style="left:159.19px;top:2159px;font-size:34.4px;color:#e8ebf3;letter-spacing:-0.194px;-webkit-text-stroke:0.35px #e8ebf3;transform:scaleX(1.05);transform-origin:0 0;">01/21/2026</span>
<svg class="b" style="left:423px;top:2159.4px" width="27" height="30" viewBox="0 0 27 30" ><path d="M4.2 0h2.6v3.4h-2.6zM20.2 0h2.6v3.4h-2.6z" fill="#9c9c9c"/><rect x="1.25" y="4.25" width="24.5" height="24.5" rx="2.5" fill="none" stroke="#9c9c9c" stroke-width="2.5"/><rect x="1" y="3" width="25" height="7.5" rx="2" fill="#9c9c9c"/></svg>
<span class="t" style="left:537.08px;top:2160px;font-size:33px;color:#8791a6;letter-spacing:-0.056px;-webkit-text-stroke:0.35px #8791a6;">5/3 Bank</span>
<svg class="b" style="left:819.0px;top:2167.75px" width="24.4" height="14.9" viewBox="0 0 24.4 14.9" ><path d="M2.2 2.2L12.2 12.7L22.2 2.2" fill="none" stroke="#8791a6" stroke-width="2.2" stroke-linecap="round" stroke-linejoin="round"/></svg>
<span class="t" style="left:1062.74px;top:2159px;font-size:34.4px;color:#e2554f;letter-spacing:0.258px;-webkit-text-stroke:0.35px #e2554f;transform:scaleX(1.05);transform-origin:0 0;">-$903.00</span>
<span class="t" style="left:1765.90px;top:2159px;font-size:34.4px;color:#4fb286;letter-spacing:-0.197px;-webkit-text-stroke:0.35px #4fb286;transform:scaleX(1.05);transform-origin:0 0;">$903.00</span>
<svg class="b" style="left:1964.7px;top:2162.5px" width="25.4" height="25.4" viewBox="0 0 25.4 25.4" ><path d="M2.7 2.7L22.7 22.7M22.7 2.7L2.7 22.7" fill="none" stroke="#8791a6" stroke-width="2.7" stroke-linecap="butt"/></svg>
<div class="b" style="left:122px;top:2218px;width:2046px;height:82px;background:#171b26;"></div>
<div class="b" style="left:122px;top:2300px;width:2046px;height:2px;background:#2d3449;"></div>
<span class="t" style="left:159.19px;top:2243px;font-size:34.4px;color:#e8ebf3;letter-spacing:0.071px;-webkit-text-stroke:0.35px #e8ebf3;transform:scaleX(1.05);transform-origin:0 0;">01/22/2026</span>
<svg class="b" style="left:423px;top:2243.4px" width="27" height="30" viewBox="0 0 27 30" ><path d="M4.2 0h2.6v3.4h-2.6zM20.2 0h2.6v3.4h-2.6z" fill="#9c9c9c"/><rect x="1.25" y="4.25" width="24.5" height="24.5" rx="2.5" fill="none" stroke="#9c9c9c" stroke-width="2.5"/><rect x="1" y="3" width="25" height="7.5" rx="2" fill="#9c9c9c"/></svg>
<span class="t" style="left:537.08px;top:2244px;font-size:33px;color:#8791a6;letter-spacing:-0.056px;-webkit-text-stroke:0.35px #8791a6;">5/3 Bank</span>
<svg class="b" style="left:819.0px;top:2251.75px" width="24.4" height="14.9" viewBox="0 0 24.4 14.9" ><path d="M2.2 2.2L12.2 12.7L22.2 2.2" fill="none" stroke="#8791a6" stroke-width="2.2" stroke-linecap="round" stroke-linejoin="round"/></svg>
<span class="t" style="left:1062.74px;top:2243px;font-size:34.4px;color:#e2554f;letter-spacing:0.258px;-webkit-text-stroke:0.35px #e2554f;transform:scaleX(1.05);transform-origin:0 0;">-$194.00</span>
<span class="t" style="left:1765.90px;top:2243px;font-size:34.4px;color:#4fb286;letter-spacing:-0.197px;-webkit-text-stroke:0.35px #4fb286;transform:scaleX(1.05);transform-origin:0 0;">$194.00</span>
<svg class="b" style="left:1964.7px;top:2246.5px" width="25.4" height="25.4" viewBox="0 0 25.4 25.4" ><path d="M2.7 2.7L22.7 22.7M22.7 2.7L2.7 22.7" fill="none" stroke="#8791a6" stroke-width="2.7" stroke-linecap="butt"/></svg>
</section>
<aside>
<section>
<div class="b" style="left:2220px;top:449px;width:1229px;height:317px;background:#181c26;border:2px solid #2d3449;border-radius:20px;"></div>
<span class="t" style="left:2266.81px;top:487px;font-size:29px;color:#7c869b;font-weight:700;letter-spacing:0.132px;">OVERALL TOTALS</span>
<span class="t" style="left:2266.86px;top:551px;font-size:28.5px;color:#8791a6;letter-spacing:0.371px;-webkit-text-stroke:0.35px #8791a6;">5/3 Bank</span>
<span class="t" style="left:2266.67px;top:594px;font-size:40px;color:#4fb286;font-weight:700;letter-spacing:1.725px;-webkit-text-stroke:0.5px #4fb286;transform:scaleX(1.09);transform-origin:0 0;">+$127,734.90</span>
<span class="t" style="left:2643.86px;top:551px;font-size:28.5px;color:#8791a6;letter-spacing:0.802px;-webkit-text-stroke:0.35px #8791a6;">Fidelity</span>
<span class="t" style="left:2646.00px;top:594px;font-size:40px;color:#e2554f;font-weight:700;letter-spacing:1.901px;-webkit-text-stroke:0.5px #e2554f;transform:scaleX(1.09);transform-origin:0 0;">-$148,237.66</span>
<span class="t" style="left:3024.36px;top:551px;font-size:28.5px;color:#8791a6;letter-spacing:0.056px;-webkit-text-stroke:0.35px #8791a6;">Tasty Trade</span>
<span class="t" style="left:3023.67px;top:594px;font-size:40px;color:#4fb286;font-weight:700;letter-spacing:1.672px;-webkit-text-stroke:0.5px #4fb286;transform:scaleX(1.09);transform-origin:0 0;">+$20,799.06</span>
<span class="t" style="left:2267.87px;top:641px;font-size:28.5px;color:#8791a6;letter-spacing:0.381px;-webkit-text-stroke:0.35px #8791a6;">Webull</span>
<span class="t" style="left:2267.80px;top:684px;font-size:40px;color:#e2554f;font-weight:700;letter-spacing:2.144px;-webkit-text-stroke:0.5px #e2554f;transform:scaleX(1.09);transform-origin:0 0;">-$242.20</span>
<span class="t" style="left:2874.16px;top:641px;font-size:28.5px;color:#8791a6;letter-spacing:0.725px;-webkit-text-stroke:0.35px #8791a6;">Robinhood</span>
<span class="t" style="left:2876.30px;top:684px;font-size:40px;color:#e2554f;font-weight:700;letter-spacing:2.310px;-webkit-text-stroke:0.5px #e2554f;transform:scaleX(1.09);transform-origin:0 0;">-$54.10</span>
<div class="b" style="left:2603px;top:547.5px;width:2px;height:89px;background:#2d3449;"></div>
<div class="b" style="left:2982px;top:547.5px;width:2px;height:89px;background:#2d3449;"></div>
<div class="b" style="left:3360px;top:547.5px;width:2px;height:89px;background:#2d3449;"></div>
<div class="b" style="left:2834px;top:637.5px;width:2px;height:89px;background:#2d3449;"></div>
</section>
<section>
<div class="b" style="left:2220px;top:821px;width:1229px;height:799px;background:#1f2330;border:2px solid #2d3449;border-radius:20px;overflow:hidden"><div class="b" style="left:0;top:780px;width:1229px;height:16px;background:#1a1e2a"></div><div class="b" style="left:0;top:780px;width:959px;height:16px;background:#2c3248;border-radius:0 8px 8px 0"></div></div>
<div class="b" style="left:2222px;top:901px;width:1225px;height:2px;background:#2d3449;"></div>
<span class="t" style="left:2255.89px;top:849px;font-size:30px;color:#7c869b;font-weight:700;letter-spacing:0.576px;">BY YEAR / MONTH</span>
<div class="b" style="left:2222px;top:903px;width:1225px;height:50px;background:#171b26;"></div>
<div class="b" style="left:2222px;top:953px;width:1225px;height:2px;background:#2d3449;"></div>
<span class="t" style="left:2543.36px;top:916px;font-size:27.5px;color:#7c869b;font-weight:700;letter-spacing:-0.042px;">BANKS</span>
<span class="t" style="left:3165.66px;top:916px;font-size:27.5px;color:#7c869b;font-weight:700;letter-spacing:-0.411px;">BROKERAGES</span>
<div class="b" style="left:2222px;top:955px;width:1225px;height:58px;background:#171b26;"></div>
<div class="b" style="left:2222px;top:1013px;width:1225px;height:2px;background:#2d3449;"></div>
<div class="b" style="left:2739.5px;top:955px;width:2px;height:58px;background:#2d3449;"></div>
<div class="b" style="left:3029px;top:955px;width:2px;height:58px;background:#2d3449;"></div>
<div class="b" style="left:3303px;top:955px;width:2px;height:58px;background:#2d3449;"></div>
<span class="t" style="left:2572.54px;top:972px;font-size:28px;color:#7c869b;font-weight:700;letter-spacing:1.218px;">5/3 BANK</span>
<span class="t" style="left:2867.13px;top:972px;font-size:28px;color:#7c869b;font-weight:700;letter-spacing:0.910px;">FIDELITY</span>
<span class="t" style="left:3071.69px;top:972px;font-size:28px;color:#7c869b;font-weight:700;letter-spacing:0.491px;">TASTY TRADE</span>
<div class="b" style="left:2222px;top:1015px;width:1225px;height:64px;background:#1f2330;"></div>
<div class="b" style="left:2222px;top:1079px;width:1225px;height:2px;background:#262b3a;"></div>
<div class="b" style="left:2222px;top:1079px;width:222px;height:2px;background:#2d3449;"></div>
<svg class="b" style="left:2249px;top:1040px" width="17.5" height="19" viewBox="0 0 17.5 19" ><path d="M1.6 1.6H15.9L8.75 16.4Z" fill="#7c869b" stroke="#7c869b" stroke-width="3.2" stroke-linejoin="round"/></svg>
<span class="t" style="left:2283.52px;top:1030px;font-size:34px;color:#e8ebf3;font-weight:700;letter-spacing:1.124px;-webkit-text-stroke:0.6px #e8ebf3;transform:scaleX(1.09);transform-origin:0 0;">2026</span>
<span class="t" style="left:2537.78px;top:1032px;font-size:32.5px;color:#e2554f;letter-spacing:1.096px;-webkit-text-stroke:0.35px #e2554f;transform:scaleX(1.05);transform-origin:0 0;">-$4,603.00</span>
<span class="t" style="left:2820.83px;top:1032px;font-size:32.5px;color:#4fb286;letter-spacing:0.819px;-webkit-text-stroke:0.35px #4fb286;transform:scaleX(1.05);transform-origin:0 0;">+$5,700.00</span>
<span class="t" style="left:3100.78px;top:1032px;font-size:32.5px;color:#e2554f;letter-spacing:1.096px;-webkit-text-stroke:0.35px #e2554f;transform:scaleX(1.05);transform-origin:0 0;">-$1,097.00</span>
<div class="b" style="left:2222px;top:1081px;width:1225px;height:62px;background:#171b26;"></div>
<div class="b" style="left:2222px;top:1143px;width:1225px;height:2px;background:#262b3a;"></div>
<div class="b" style="left:2222px;top:1143px;width:222px;height:2px;background:#2d3449;"></div>
<span class="t" style="left:2282.94px;top:1099px;font-size:30.5px;color:#8791a6;letter-spacing:1.229px;-webkit-text-stroke:0.35px #8791a6;">Apr 2026</span>
<span class="t" style="left:2531.83px;top:1098px;font-size:32.5px;color:#4fb286;letter-spacing:0.819px;-webkit-text-stroke:0.35px #4fb286;transform:scaleX(1.05);transform-origin:0 0;">+$6,300.00</span>
<span class="t" style="left:2826.78px;top:1098px;font-size:32.5px;color:#e2554f;letter-spacing:1.096px;-webkit-text-stroke:0.35px #e2554f;transform:scaleX(1.05);transform-origin:0 0;">-$6,300.00</span>
<div class="b" style="left:3248px;top:1114px;width:25px;height:2.6px;background:#7c869b;"></div>
<div class="b" style="left:2222px;top:1145px;width:1225px;height:62px;background:#171b26;"></div>
<div class="b" style="left:2222px;top:1207px;width:1225px;height:2px;background:#262b3a;"></div>
<div class="b" style="left:2222px;top:1207px;width:222px;height:2px;background:#2d3449;"></div>
<span class="t" style="left:2280.50px;top:1163px;font-size:30.5px;color:#8791a6;letter-spacing:1.229px;-webkit-text-stroke:0.35px #8791a6;">Mar 2026</span>
<span class="t" style="left:2537.78px;top:1162px;font-size:32.5px;color:#e2554f;letter-spacing:1.096px;-webkit-text-stroke:0.35px #e2554f;transform:scaleX(1.05);transform-origin:0 0;">-$7,350.00</span>
<span class="t" style="left:2820.83px;top:1162px;font-size:32.5px;color:#4fb286;letter-spacing:0.819px;-webkit-text-stroke:0.35px #4fb286;transform:scaleX(1.05);transform-origin:0 0;">+$7,350.00</span>
<div class="b" style="left:3248px;top:1178px;width:25px;height:2.6px;background:#7c869b;"></div>
<div class="b" style="left:2222px;top:1209px;width:1225px;height:62px;background:#171b26;"></div>
<div class="b" style="left:2222px;top:1271px;width:1225px;height:2px;background:#262b3a;"></div>
<div class="b" style="left:2222px;top:1271px;width:222px;height:2px;background:#2d3449;"></div>
<span class="t" style="left:2280.50px;top:1227px;font-size:30.5px;color:#8791a6;letter-spacing:1.229px;-webkit-text-stroke:0.35px #8791a6;">Feb 2026</span>
<span class="t" style="left:2537.78px;top:1226px;font-size:32.5px;color:#e2554f;letter-spacing:1.096px;-webkit-text-stroke:0.35px #e2554f;transform:scaleX(1.05);transform-origin:0 0;">-$4,150.00</span>
<span class="t" style="left:2820.83px;top:1226px;font-size:32.5px;color:#4fb286;letter-spacing:0.819px;-webkit-text-stroke:0.35px #4fb286;transform:scaleX(1.05);transform-origin:0 0;">+$4,150.00</span>
<div class="b" style="left:3248px;top:1242px;width:25px;height:2.6px;background:#7c869b;"></div>
<div class="b" style="left:2222px;top:1273px;width:1225px;height:62px;background:#171b26;"></div>
<div class="b" style="left:2222px;top:1335px;width:1225px;height:2px;background:#262b3a;"></div>
<div class="b" style="left:2222px;top:1335px;width:222px;height:2px;background:#2d3449;"></div>
<span class="t" style="left:2282.52px;top:1291px;font-size:30.5px;color:#8791a6;letter-spacing:1.229px;-webkit-text-stroke:0.35px #8791a6;">Jan 2026</span>
<span class="t" style="left:2562.02px;top:1290px;font-size:32.5px;color:#4fb286;letter-spacing:0.819px;-webkit-text-stroke:0.35px #4fb286;transform:scaleX(1.05);transform-origin:0 0;">+$597.00</span>
<span class="t" style="left:2851.02px;top:1290px;font-size:32.5px;color:#4fb286;letter-spacing:0.819px;-webkit-text-stroke:0.35px #4fb286;transform:scaleX(1.05);transform-origin:0 0;">+$500.00</span>
<span class="t" style="left:3100.78px;top:1290px;font-size:32.5px;color:#e2554f;letter-spacing:1.096px;-webkit-text-stroke:0.35px #e2554f;transform:scaleX(1.05);transform-origin:0 0;">-$1,097.00</span>
<div class="b" style="left:2222px;top:1337px;width:1225px;height:64px;background:#1f2330;"></div>
<div class="b" style="left:2222px;top:1401px;width:1225px;height:2px;background:#262b3a;"></div>
<div class="b" style="left:2222px;top:1401px;width:222px;height:2px;background:#2d3449;"></div>
<svg class="b" style="left:2249px;top:1362.5px" width="18" height="18.5" viewBox="0 0 18 18.5" ><path d="M1.6 1.6V16.9L15.399999999999999 9.25Z" fill="#7c869b" stroke="#7c869b" stroke-width="3.2" stroke-linejoin="round"/></svg>
<span class="t" style="left:2283.52px;top:1352px;font-size:34px;color:#e8ebf3;font-weight:700;letter-spacing:1.124px;-webkit-text-stroke:0.6px #e8ebf3;transform:scaleX(1.09);transform-origin:0 0;">2025</span>
<span class="t" style="left:2512.29px;top:1354px;font-size:32.5px;color:#4fb286;letter-spacing:0.819px;-webkit-text-stroke:0.35px #4fb286;transform:scaleX(1.05);transform-origin:0 0;">+$64,651.19</span>
<span class="t" style="left:2806.77px;top:1354px;font-size:32.5px;color:#e2554f;letter-spacing:1.096px;-webkit-text-stroke:0.35px #e2554f;transform:scaleX(1.05);transform-origin:0 0;">-$64,674.95</span>
<span class="t" style="left:3095.00px;top:1354px;font-size:32.5px;color:#4fb286;letter-spacing:0.819px;-webkit-text-stroke:0.35px #4fb286;transform:scaleX(1.05);transform-origin:0 0;">+$1,320.06</span>
<div class="b" style="left:2222px;top:1403px;width:1225px;height:64px;background:#1f2330;"></div>
<div class="b" style="left:2222px;top:1467px;width:1225px;height:2px;background:#262b3a;"></div>
<div class="b" style="left:2222px;top:1467px;width:222px;height:2px;background:#2d3449;"></div>
<svg class="b" style="left:2249px;top:1428.5px" width="18" height="18.5" viewBox="0 0 18 18.5" ><path d="M1.6 1.6V16.9L15.399999999999999 9.25Z" fill="#7c869b" stroke="#7c869b" stroke-width="3.2" stroke-linejoin="round"/></svg>
<span class="t" style="left:2283.52px;top:1418px;font-size:34px;color:#e8ebf3;font-weight:700;letter-spacing:1.124px;-webkit-text-stroke:0.6px #e8ebf3;transform:scaleX(1.09);transform-origin:0 0;">2024</span>
<span class="t" style="left:2512.34px;top:1420px;font-size:32.5px;color:#4fb286;letter-spacing:0.819px;-webkit-text-stroke:0.35px #4fb286;transform:scaleX(1.05);transform-origin:0 0;">+$78,186.71</span>
<span class="t" style="left:2807.00px;top:1420px;font-size:32.5px;color:#e2554f;letter-spacing:1.096px;-webkit-text-stroke:0.35px #e2554f;transform:scaleX(1.05);transform-origin:0 0;">-$89,262.71</span>
<span class="t" style="left:3075.01px;top:1420px;font-size:32.5px;color:#4fb286;letter-spacing:0.819px;-webkit-text-stroke:0.35px #4fb286;transform:scaleX(1.05);transform-origin:0 0;">+$10,076.00</span>
<div class="b" style="left:2222px;top:1469px;width:1225px;height:66px;background:#1f2330;"></div>
<div class="b" style="left:2222px;top:1533px;width:1225px;height:5px;background:#2d3449;"></div>
<svg class="b" style="left:2249px;top:1494.5px" width="18" height="18.5" viewBox="0 0 18 18.5" ><path d="M1.6 1.6V16.9L15.399999999999999 9.25Z" fill="#7c869b" stroke="#7c869b" stroke-width="3.2" stroke-linejoin="round"/></svg>
<span class="t" style="left:2283.52px;top:1484px;font-size:34px;color:#e8ebf3;font-weight:700;letter-spacing:1.124px;-webkit-text-stroke:0.6px #e8ebf3;transform:scaleX(1.09);transform-origin:0 0;">2023</span>
<span class="t" style="left:2517.67px;top:1486px;font-size:32.5px;color:#e2554f;letter-spacing:1.096px;-webkit-text-stroke:0.35px #e2554f;transform:scaleX(1.05);transform-origin:0 0;">-$10,500.00</span>
<div class="b" style="left:2974px;top:1502px;width:25px;height:2.6px;background:#7c869b;"></div>
<span class="t" style="left:3075.01px;top:1486px;font-size:32.5px;color:#4fb286;letter-spacing:0.819px;-webkit-text-stroke:0.35px #4fb286;transform:scaleX(1.05);transform-origin:0 0;">+$10,500.00</span>
<div class="b" style="left:2222px;top:1538px;width:1225px;height:65px;background:#1d212d;"></div>
<span class="t" style="left:2247.67px;top:1557px;font-size:29px;color:#7c869b;font-weight:700;letter-spacing:-0.485px;">TOTAL</span>
<span class="t" style="left:2474.49px;top:1555px;font-size:33px;color:#4fb286;font-weight:700;letter-spacing:1.329px;-webkit-text-stroke:0.4px #4fb286;transform:scaleX(1.09);transform-origin:0 0;">+$127,734.90</span>
<span class="t" style="left:2771.09px;top:1555px;font-size:33px;color:#e2554f;font-weight:700;letter-spacing:1.433px;-webkit-text-stroke:0.4px #e2554f;transform:scaleX(1.09);transform-origin:0 0;">-$148,237.66</span>
<span class="t" style="left:3058.77px;top:1555px;font-size:33px;color:#4fb286;font-weight:700;letter-spacing:1.329px;-webkit-text-stroke:0.4px #4fb286;transform:scaleX(1.09);transform-origin:0 0;">+$20,799.06</span>
<div class="b" style="left:2444px;top:955px;width:2px;height:648px;background:#2d3449;"></div>
<div class="b" style="left:3310px;top:955px;width:137px;height:647px;overflow:hidden">
<span class="t" style="left:81.47px;top:17px;font-size:28px;color:#7c869b;font-weight:700;letter-spacing:0.325px;">WEBULL</span>
<span class="t" style="left:29.78px;top:399px;font-size:32.5px;color:#e2554f;letter-spacing:1.096px;-webkit-text-stroke:0.35px #e2554f;transform:scaleX(1.05);transform-origin:0 0;">-$1,242.20</span>
<span class="t" style="left:23.83px;top:465px;font-size:32.5px;color:#4fb286;letter-spacing:0.819px;-webkit-text-stroke:0.35px #4fb286;transform:scaleX(1.05);transform-origin:0 0;">+$1,000.00</span>
<span class="t" style="left:50.53px;top:600px;font-size:33px;color:#e2554f;font-weight:700;letter-spacing:1.433px;-webkit-text-stroke:0.4px #e2554f;transform:scaleX(1.09);transform-origin:0 0;">-$242.20</span>
</div>
</section>
</aside>
</main>
<script>(function(){var w=window.innerWidth;if(w&&Math.abs(w-3544)>2){var h=document.documentElement;h.style.width="auto";h.style.height="auto";document.body.style.zoom=w/3544;}})();</script>
</body></html>
